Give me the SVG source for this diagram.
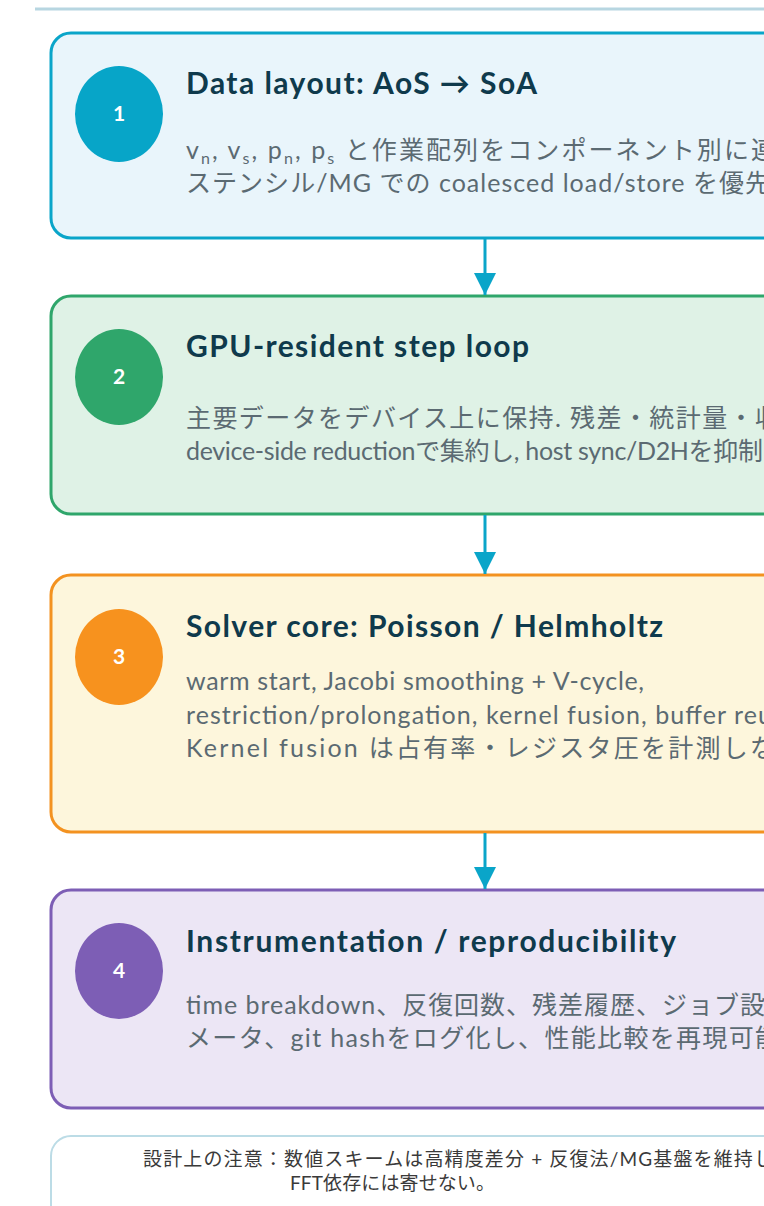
<svg xmlns="http://www.w3.org/2000/svg" width="764" height="1206" viewBox="0 0 764 1206">
<defs>
<style>
.box{stroke-width:3}
.title{font-family:Lato,"Noto Sans CJK JP",sans-serif;font-weight:700;font-size:30px;fill:#0f3a4c}
.body{font-family:Lato,"Noto Sans CJK JP",sans-serif;font-size:25px;fill:#5b6a72}
.num{font-family:Lato,sans-serif;font-weight:700;font-size:21px;fill:#ffffff;text-anchor:middle}
.note{font-family:Lato,"Noto Sans CJK JP",sans-serif;font-size:19px;fill:#3a3a3a}
.conn{stroke:#0aa5c9;stroke-width:3;fill:none}
.sub{font-size:16px}
</style>
<marker id="ah" markerUnits="userSpaceOnUse" markerWidth="22" markerHeight="22" viewBox="0 0 22 22" refX="22" refY="11" orient="auto">
<path d="M0,0 L22,11 L0,22 z" fill="#0aa5c9"/>
</marker>
</defs>
<rect width="764" height="1206" fill="#ffffff"/>
<line x1="35" y1="9" x2="764" y2="9" stroke="#b7d6e1" stroke-width="3"/>

<g id="node1">
<rect class="box" x="51" y="33" width="870" height="205" rx="20" fill="#e9f5fb" stroke="#0aa5c9"/>
<ellipse cx="119" cy="114" rx="44" ry="48" fill="#07a5c8"/>
<text class="num" x="119" y="121">1</text>
<text class="title" x="186" y="94" textLength="351">Data layout: AoS → SoA</text>
<text class="body" x="186" y="159" textLength="590">v<tspan class="sub" dy="5">n</tspan><tspan dy="-5">, v</tspan><tspan class="sub" dy="5">s</tspan><tspan dy="-5">, p</tspan><tspan class="sub" dy="5">n</tspan><tspan dy="-5">, p</tspan><tspan class="sub" dy="5">s</tspan><tspan dy="-5"> と作業配列をコンポーネント別に連</tspan></text>
<text class="body" x="186" y="192" textLength="584">ステンシル/MG での coalesced load/store を優先</text>
</g>

<g id="node2">
<rect class="box" x="51" y="296" width="870" height="218" rx="20" fill="#dff2e6" stroke="#2fa66b"/>
<ellipse cx="119" cy="377" rx="44" ry="48" fill="#2fa66b"/>
<text class="num" x="119" y="384">2</text>
<text class="title" x="186" y="357" textLength="343">GPU-resident step loop</text>
<text class="body" x="186" y="427" textLength="594">主要データをデバイス上に保持. 残差・統計量・収</text>
<text class="body" x="186" y="460" textLength="577">device-side reductionで集約し, host sync/D2Hを抑制</text>
</g>

<g id="node3">
<rect class="box" x="51" y="575" width="870" height="257" rx="20" fill="#fdf6dc" stroke="#f39220"/>
<ellipse cx="119" cy="657" rx="44" ry="48" fill="#f7921e"/>
<text class="num" x="119" y="664">3</text>
<text class="title" x="186" y="637" textLength="477">Solver core: Poisson / Helmholtz</text>
<text class="body" x="186" y="690" textLength="458">warm start, Jacobi smoothing + V-cycle,</text>
<text class="body" x="186" y="724" textLength="612">restriction/prolongation, kernel fusion, buffer reuse</text>
<text class="body" x="186" y="757" textLength="589">Kernel fusion は占有率・レジスタ圧を計測しな</text>
</g>

<g id="node4">
<rect class="box" x="51" y="890" width="870" height="218" rx="20" fill="#ece6f5" stroke="#7d5eb5"/>
<ellipse cx="119" cy="971" rx="44" ry="48" fill="#7d5eb5"/>
<text class="num" x="119" y="978">4</text>
<text class="title" x="186" y="952" textLength="490">Instrumentation / reproducibility</text>
<text class="body" x="186" y="1014" textLength="579">time breakdown、反復回数、残差履歴、ジョブ設</text>
<text class="body" x="186" y="1047" textLength="594">メータ、git hashをログ化し、性能比較を再現可能</text>
</g>

<g id="note">
<rect x="51" y="1136" width="870" height="100" rx="20" fill="#ffffff" stroke="#bcdce6" stroke-width="2"/>
<text class="note" x="143" y="1166" textLength="630">設計上の注意：数値スキームは高精度差分 + 反復法/MG基盤を維持し</text>
<text class="note" x="290" y="1190" textLength="205">FFT依存には寄せない。</text>
</g>

<g id="connectors">
<line class="conn" x1="485" y1="239" x2="485" y2="295" marker-end="url(#ah)"/>
<line class="conn" x1="485" y1="515" x2="485" y2="574" marker-end="url(#ah)"/>
<line class="conn" x1="485" y1="833" x2="485" y2="889" marker-end="url(#ah)"/>
</g>
</svg>
